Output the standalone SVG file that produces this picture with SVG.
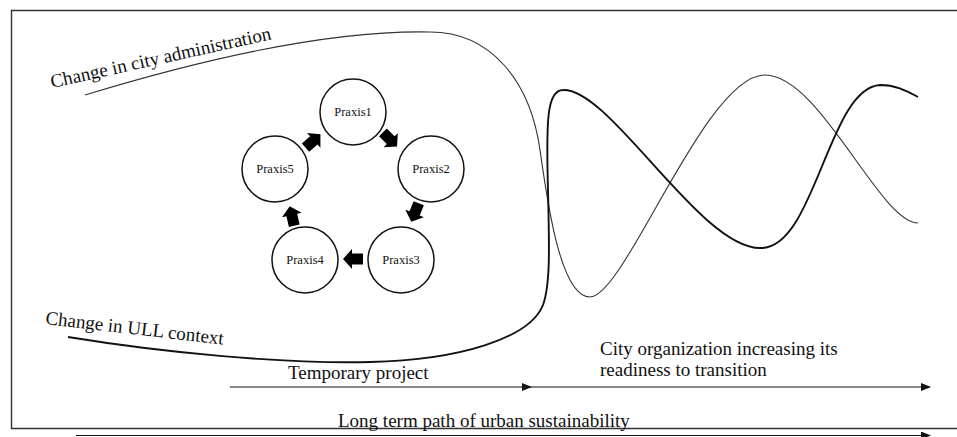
<svg xmlns="http://www.w3.org/2000/svg" width="957" height="437" viewBox="0 0 957 437">
  <style>
    .lbl { font-family: "Liberation Serif", "Times New Roman", serif; font-size: 19px; fill: #111; }
    .node circle { fill: #fff; stroke: #111; stroke-width: 1.5; }
    .node text { font-family: "Liberation Serif", "Times New Roman", serif; font-size: 12.5px; fill: #111; text-anchor: middle; }
    .flow { fill: #000; }
    .axis { fill: none; stroke: #111; stroke-width: 1.2; marker-end: url(#tip); }
    .thin { fill: none; stroke: #333; stroke-width: 1.1; }
    .thick { fill: none; stroke: #111; stroke-width: 1.9; }
  </style>
  <defs>
    <marker id="tip" viewBox="0 0 10 8" refX="9" refY="4" markerWidth="10" markerHeight="8" markerUnits="userSpaceOnUse" orient="auto">
      <path d="M0,0 L10,4 L0,8 Z" fill="#111"/>
    </marker>
    <polygon id="block" points="-10,-5.5 1,-5.5 1,-10 10,0 1,10 1,5.5 -10,5.5"/>
  </defs>

  <rect width="957" height="437" fill="#fff"/>

  <!-- frame -->
  <path d="M957,10.5 H11.5 V428.5 H957" fill="none" stroke="#333" stroke-width="1.4"/>

  <!-- trajectories -->
  <g id="trajectories">
    <path id="city-admin" class="thin" d="M85,95 C200,60 330,30 430,32 C490,32 530,80 540,150 C547,199 560,297 590,297 C625,297 705,75 765,75 C820,75 880,223 918,223"/>
    <path id="ull-context" class="thick" d="M68,337 C160,352 280,364 370,362 C460,360 530,338 543,305 C551,283 549,240 548,190 C546,120 547,90 563,90 C610,88 700,248 760,248 C815,250 828,88 880,85 C895,85 905,90 918,97"/>
  </g>

  <text class="lbl" transform="translate(52,88) rotate(-12.5)" font-size="18.5">Change in city administration</text>
  <text class="lbl" transform="translate(45,324) rotate(6.6)">Change in ULL context</text>

  <!-- praxis cycle -->
  <g id="praxis1" class="node"><circle cx="353" cy="112" r="33"/><text x="353" y="116">Praxis1</text></g>
  <g id="praxis2" class="node"><circle cx="431" cy="169" r="33"/><text x="431" y="173">Praxis2</text></g>
  <g id="praxis3" class="node"><circle cx="401" cy="260" r="33"/><text x="401" y="264">Praxis3</text></g>
  <g id="praxis4" class="node"><circle cx="305" cy="260" r="33"/><text x="305" y="264">Praxis4</text></g>
  <g id="praxis5" class="node"><circle cx="275" cy="169" r="33"/><text x="275" y="173">Praxis5</text></g>

  <g id="connectors">
    <use href="#block" class="flow" transform="translate(390,139.5) rotate(45)"/>
    <use href="#block" class="flow" transform="translate(415,212.5) rotate(112)"/>
    <use href="#block" class="flow" transform="translate(353,259) rotate(180)"/>
    <use href="#block" class="flow" transform="translate(292,216) rotate(257)"/>
    <use href="#block" class="flow" transform="translate(313,141) rotate(318)"/>

    <!-- time axes -->
    <line class="axis" x1="230" y1="387" x2="531" y2="387"/>
    <line class="axis" x1="531" y1="387" x2="930" y2="387"/>
    <line class="axis" x1="76" y1="435.5" x2="930" y2="435.5" stroke-width="1.5"/>
  </g>

  <text class="lbl" x="288" y="379">Temporary project</text>
  <text class="lbl" x="600" y="355">City organization increasing its</text>
  <text class="lbl" x="600" y="376">readiness to transition</text>
  <text class="lbl" x="338" y="427">Long term path of urban sustainability</text>
</svg>
